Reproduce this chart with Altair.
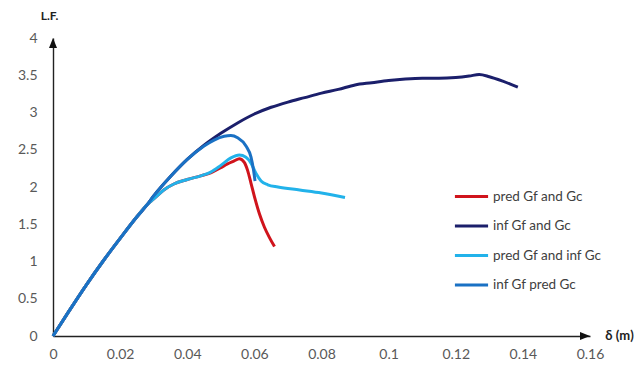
import altair as alt
import pandas as pd

# Load factor (L.F.) vs. displacement delta (m) for four fracture-energy settings
series_names = ["pred Gf and Gc", "inf Gf and Gc", "pred Gf and inf Gc", "inf Gf pred Gc"]
series_colors = ["#d0141c", "#1b1f6b", "#22b2ea", "#1a71c4"]

# shared elastic branch
base_x = [0.0, 0.005, 0.01, 0.015, 0.02, 0.025, 0.028]
base_y = [0.0, 0.35, 0.69, 1.01, 1.31, 1.60, 1.76]

inf_both_x = base_x + [0.03, 0.035, 0.04, 0.045, 0.05, 0.055, 0.06, 0.065, 0.07, 0.075,
                       0.08, 0.085, 0.09, 0.095, 0.1, 0.105, 0.11, 0.115, 0.12, 0.124,
                       0.127, 0.13, 0.134, 0.1385]
inf_both_y = base_y + [1.88, 2.14, 2.37, 2.56, 2.72, 2.86, 2.98, 3.07, 3.14, 3.20,
                       3.26, 3.31, 3.37, 3.40, 3.43, 3.45, 3.46, 3.46, 3.47, 3.49,
                       3.51, 3.48, 3.42, 3.34]

inf_gf_x = base_x + [0.03, 0.035, 0.04, 0.045, 0.048, 0.051, 0.053, 0.055, 0.0575,
                     0.059, 0.0597, 0.0602]
inf_gf_y = base_y + [1.88, 2.14, 2.37, 2.55, 2.63, 2.68, 2.69, 2.66, 2.55,
                     2.40, 2.24, 2.08]

pred_gf_x = base_x + [0.03, 0.033, 0.036, 0.04, 0.044, 0.047, 0.05, 0.053, 0.0555,
                      0.0575, 0.059, 0.0605, 0.062, 0.064, 0.067, 0.0735, 0.08, 0.087]
pred_gf_y = base_y + [1.84, 1.96, 2.04, 2.10, 2.15, 2.20, 2.29, 2.39, 2.43,
                      2.40, 2.32, 2.18, 2.08, 2.03, 2.00, 1.96, 1.92, 1.86]

pred_both_x = base_x + [0.03, 0.033, 0.036, 0.04, 0.044, 0.047, 0.05, 0.052, 0.054,
                        0.0555, 0.057, 0.058, 0.059, 0.0602, 0.0615, 0.063, 0.0645, 0.066]
pred_both_y = base_y + [1.84, 1.96, 2.04, 2.10, 2.15, 2.19, 2.26, 2.31, 2.35,
                        2.38, 2.33, 2.22, 2.05, 1.84, 1.64, 1.46, 1.32, 1.20]

x_ticks = [0.0, 0.02, 0.04, 0.06, 0.08, 0.1, 0.12, 0.14, 0.16]
y_ticks = [0.0, 0.5, 1.0, 1.5, 2.0, 2.5, 3.0, 3.5, 4.0]

rows = []
for name, xs, ys in [
    ("pred Gf and Gc", pred_both_x, pred_both_y),
    ("inf Gf and Gc", inf_both_x, inf_both_y),
    ("pred Gf and inf Gc", pred_gf_x, pred_gf_y),
    ("inf Gf pred Gc", inf_gf_x, inf_gf_y),
]:
    for i, (xv, yv) in enumerate(zip(xs, ys)):
        rows.append({"series": name, "delta": xv, "lf": yv, "i": i})
df = pd.DataFrame(rows)

# arrowheads at the ends of both axes
arrow_df = pd.DataFrame({
    "series": ["", ""],
    "delta": [0.0, 0.16],
    "lf": [4.0, 0.0],
    "i": [0, 0],
    "shape": ["M0,0L-0.4,1L0.4,1Z", "M0,0L-1,-0.4L-1,0.4Z"],
})

FONT = "Lato"
LABEL_COLOR = "#595959"

x_enc = alt.X(
    "delta:Q",
    scale=alt.Scale(domain=[0, 0.16], nice=False),
    axis=alt.Axis(
        values=x_ticks, labelExpr="format(datum.value, '~g')",
        grid=False, ticks=False, tickSize=0,
        labelOverlap=False, labelFlush=False,
        labelPadding=11, labelFont=FONT, labelFontSize=14, labelColor=LABEL_COLOR,
        domainColor="#222222", domainWidth=1.4,
        title="δ (m)", titleFont=FONT, titleFontSize=13, titleFontWeight="bold",
        titleColor="#222222", titleX=566, titleY=-1, titleAlign="center",
        titleBaseline="middle", titleAngle=0,
    ),
)
y_enc = alt.Y(
    "lf:Q",
    scale=alt.Scale(domain=[0, 4], nice=False),
    axis=alt.Axis(
        values=y_ticks, labelExpr="format(datum.value, '~g')",
        grid=False, ticks=False, tickSize=0,
        labelOverlap=False, labelFlush=False,
        labelPadding=16, labelFont=FONT, labelFontSize=14, labelColor=LABEL_COLOR,
        domainColor="#222222", domainWidth=1.4,
        title="L.F.", titleFont=FONT, titleFontSize=12, titleFontWeight="bold",
        titleColor="#222222", titleX=-4, titleY=-23, titleAlign="center",
        titleBaseline="middle", titleAngle=0,
    ),
)
color_enc = alt.Color(
    "series:N",
    scale=alt.Scale(domain=series_names, range=series_colors),
    legend=alt.Legend(
        title=None, orient="none", legendX=400, legendY=140,
        symbolType="stroke", symbolSize=1100, symbolStrokeWidth=3,
        labelFont=FONT, labelFontSize=13.5, labelColor="#404040",
        rowPadding=4.5, labelOffset=3,
    ),
)

# draw order: navy, red, light blue, then medium blue on top
layers = []
for name in ["inf Gf and Gc", "pred Gf and Gc", "pred Gf and inf Gc", "inf Gf pred Gc"]:
    layers.append(
        alt.Chart(df)
        .transform_filter(alt.datum.series == name)
        .mark_line(strokeWidth=3, interpolate="monotone")
        .encode(color=color_enc, order="i:Q")
    )

arrows = (
    alt.Chart(arrow_df)
    .mark_point(filled=True, color="#111111", size=400, opacity=1, strokeWidth=0)
    .encode(shape=alt.Shape("shape:N", scale=None))
)

chart = (
    alt.layer(*layers, arrows)
    .encode(x=x_enc, y=y_enc)
    .properties(
        width=537, height=298,
        autosize=alt.AutoSizeParams(type="none"),
        padding={"left": 53, "top": 38, "right": 50, "bottom": 35},
        background="white",
    )
    .configure_view(stroke=None)
)

chart.save("out.html", embed_options={"renderer": "svg", "actions": False})
